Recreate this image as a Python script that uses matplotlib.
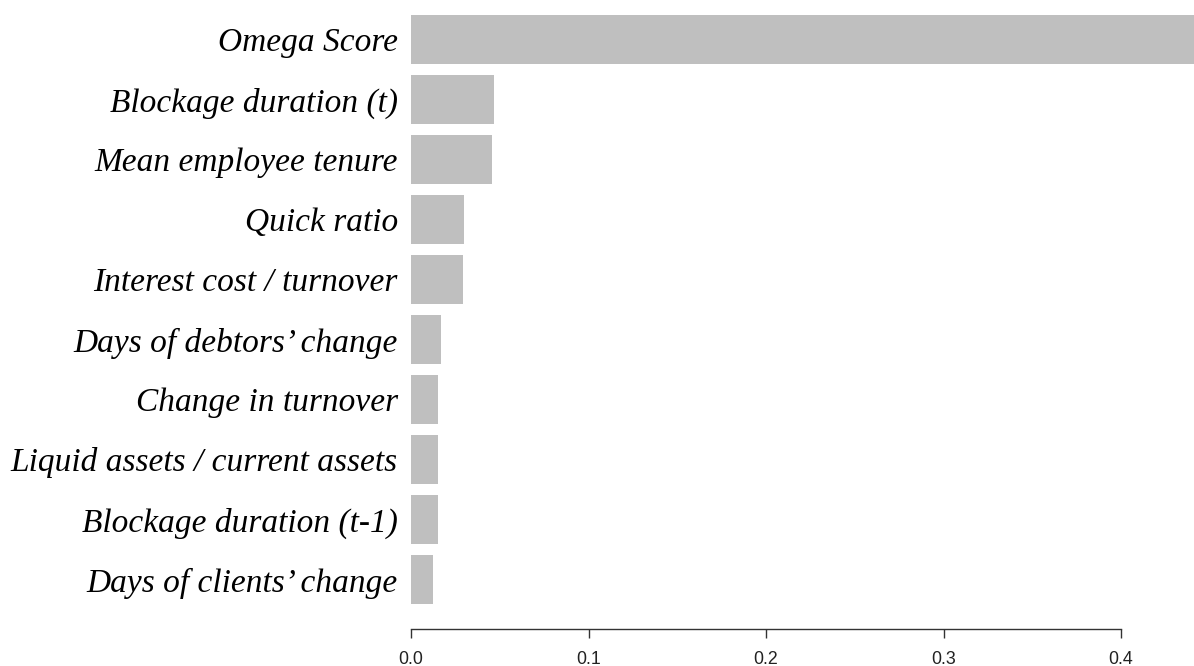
import matplotlib.pyplot as plt

# feature importances, top to bottom
features = [
    "Omega Score",
    "Blockage duration (t)",
    "Mean employee tenure",
    "Quick ratio",
    "Interest cost / turnover",
    "Days of debtors\u2019 change",
    "Change in turnover",
    "Liquid assets / current assets",
    "Blockage duration (t-1)",
    "Days of clients\u2019 change",
]
importance = [0.50, 0.0468, 0.0456, 0.0299, 0.0293, 0.0169, 0.0152, 0.0152, 0.0152, 0.0124]
x_ticks = [0.0, 0.1, 0.2, 0.3, 0.4]
x_tick_labels = ["0.0", "0.1", "0.2", "0.3", "0.4"]

W, H = 1194, 666
fig = plt.figure(figsize=(W / 100, H / 100), dpi=100)

# axes placed so x=0 sits at the bars' left edge and the plot runs to the right border
left_px = 411
ax = fig.add_axes([left_px / W, 0, (W - left_px) / W, 1])

pitch = 60.0
first_center = 39.5
pos = list(range(len(features)))
ax.barh(pos, importance, height=49 / pitch, color="#bfbfbf", linewidth=0)

ax.set_xlim(0, (W - left_px) / 1775.0)
ax.set_ylim((H - first_center) / pitch, -first_center / pitch)

ax.set_yticks(pos)
ax.set_yticklabels(features, fontfamily="Liberation Serif", fontstyle="italic", fontsize=24)
ax.tick_params(axis="y", length=0, pad=9.5)

for s in ["top", "right", "left"]:
    ax.spines[s].set_visible(False)
ax.spines["bottom"].set_position(("data", (629 - first_center) / pitch))
ax.spines["bottom"].set_bounds(0, 0.4)
ax.spines["bottom"].set_color("#333333")
ax.spines["bottom"].set_linewidth(1.0)

ax.set_xticks(x_ticks)
ax.set_xticklabels(x_tick_labels, fontfamily="Liberation Sans", fontsize=12.8, color="#222222")
ax.tick_params(axis="x", direction="out", length=6.5, width=1.0, color="#333333", pad=9.5)

ax.patch.set_visible(False)
fig.savefig("out.png", dpi=100)
